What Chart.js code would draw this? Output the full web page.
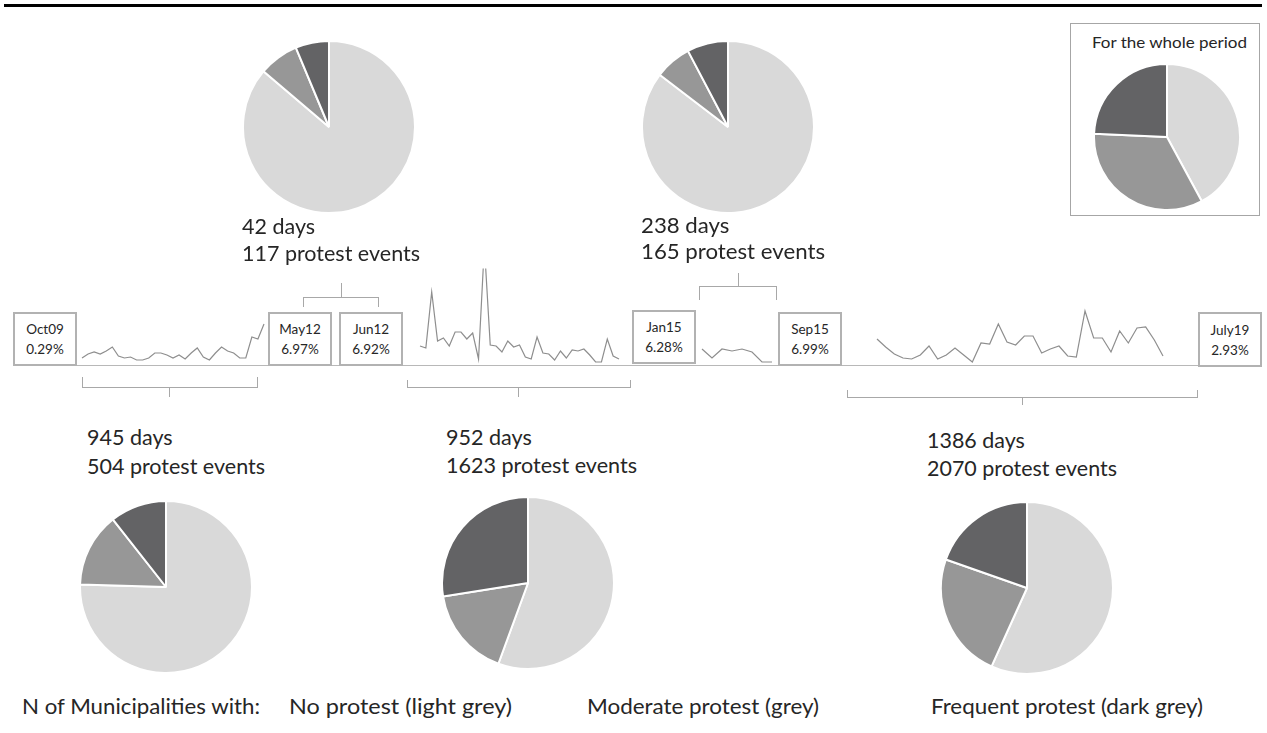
<!DOCTYPE html>
<html>
<head>
<meta charset="utf-8">
<script src="https://cdn.jsdelivr.net/npm/chart.js@4.4.1/dist/chart.umd.min.js"></script>
<style>
  html, body { margin:0; padding:0; background:#fff; }
  #stage { position:relative; width:1267px; height:733px; overflow:hidden; font-family: Lato, "Open Sans", sans-serif; color:#262626; }
  .abs { position:absolute; }
  .box { position:absolute; box-sizing:border-box; border:2px solid #b2b2b2; background:#fff;
         display:flex; flex-direction:column; align-items:center; justify-content:center;
         font-size:13.5px; line-height:20px; color:#262626; }
  .txt { position:absolute; white-space:nowrap; transform-origin:0 0; }
  .br { position:absolute; box-sizing:border-box; border-color:#a8a8a8; border-style:solid; border-width:0; }
  .tick { position:absolute; width:1px; background:#a8a8a8; }
</style>
</head>
<body>
<div id="stage"></div>
<script>
// ---------------- DATA ----------------
const pieCategories = ['No protest', 'Moderate protest', 'Frequent protest'];
const pieWholePeriod = [42.1, 33.6, 24.3];
const pieOct09May12 = [75.4, 13.9, 10.6];
const pieMay12Jun12 = [86.2, 7.5, 6.3];
const pieJun12Jan15 = [55.6, 16.9, 27.5];
const pieJan15Sep15 = [85.3, 6.9, 7.7];
const pieSep15Jul19 = [56.7, 23.6, 19.6];

const lineOct09May12 = [0.8,1.2,1.4,1.2,1.5,1.9,1.0,0.8,0.9,0.6,0.6,0.8,1.3,1.3,1.1,0.8,1.1,0.7,1.3,1.8,0.9,0.6,1.3,1.9,1.5,1.3,0.8,0.8,2.9,2.7,4.2];
const lineJun12Jan15 = [2.0,1.8,7.4,2.5,2.8,2.0,3.4,3.4,2.7,3.3,0.7,12.0,2.1,2.0,1.4,2.5,1.9,2.1,0.9,0.7,2.9,1.3,1.2,0.6,1.5,0.8,1.6,1.5,1.7,1.1,0.4,0.4,2.7,1.0,0.7];
const lineJan15Sep15 = [1.7,0.8,1.7,1.5,1.7,1.4,0.4,0.4];
const lineSep15Jul19 = [2.7,1.9,1.2,0.8,0.7,1.1,2.0,0.7,1.1,1.8,1.1,0.4,2.3,2.2,4.2,2.4,2.1,3.0,3.0,1.3,1.7,2.0,1.0,0.9,5.5,2.8,2.8,1.4,3.5,2.3,3.8,3.9,2.6,1.0];

const boxDates = ['Oct09', 'May12', 'Jun12', 'Jan15', 'Sep15', 'July19'];
const boxShares = ['0.29%', '6.97%', '6.92%', '6.28%', '6.99%', '2.93%'];

const periodDays = ['945 days', '42 days', '952 days', '238 days', '1386 days'];
const periodEvents = ['504 protest events', '117 protest events', '1623 protest events', '165 protest events', '2070 protest events'];

const wholeTitle = 'For the whole period';
const legendTitle = 'N of Municipalities with:';
const legendItems = ['No protest (light grey)', 'Moderate protest (grey)', 'Frequent protest (dark grey)'];

// ---------------- STYLE / LAYOUT ----------------
const pieColors = ['#d9d9d9', '#979797', '#636365'];
const stage = document.getElementById('stage');
const ASC = 0.987;

function el(cls, css) {
  const d = document.createElement('div');
  d.className = cls;
  d.style.cssText = css;
  stage.appendChild(d);
  return d;
}
function addText(str, x, baseline, size, targetW) {
  const d = el('txt', `left:${x}px;top:${baseline - ASC*size}px;font-size:${size}px;line-height:${1.2*size}px;`);
  d.textContent = str;
  if (targetW) {
    const w = d.getBoundingClientRect().width;
    if (w > 0) d.style.transform = `scaleX(${targetW / w})`;
  }
  return d;
}

// top rule
el('abs', 'left:4px;top:4px;width:1258px;height:3px;background:#000;');

// baseline
el('abs', 'left:13px;top:365px;width:1249px;height:1px;background:#b8b8b8;');

// line charts
const LINE_TOP = 269, LINE_BOTTOM = 366, Y_MAX = 9.7, PAD = 3;
function lineChart(values, x0, x1) {
  const c = document.createElement('canvas');
  const w = (x1 - x0) + 2*PAD, h = (LINE_BOTTOM - LINE_TOP) + 2*PAD;
  c.width = w; c.height = h;
  c.style.cssText = `position:absolute;left:${x0-PAD}px;top:${LINE_TOP-PAD}px;width:${w}px;height:${h}px;`;
  stage.appendChild(c);
  new Chart(c, {
    type: 'line',
    data: { labels: values.map((_, i) => String(i)),
      datasets: [{ data: values, borderColor: '#8e8e8e', borderWidth: 1.2, pointRadius: 0,
                   tension: 0, fill: false, clip: { left: PAD, right: PAD, top: 0.6, bottom: PAD } }] },
    options: { responsive: false, animation: false, events: [], devicePixelRatio: 1,
      layout: { padding: PAD },
      plugins: { legend: { display: false }, tooltip: { enabled: false } },
      scales: { x: { display: false, offset: false }, y: { display: false, min: 0, max: Y_MAX } } }
  });
}
lineChart(lineOct09May12, 82, 264);
lineChart(lineJun12Jan15, 420, 619);
lineChart(lineJan15Sep15, 702, 772);
lineChart(lineSep15Jul19, 877, 1163);

// boxes
const boxRects = [[13,312,64,54],[268,312,64,54],[339,312,64,54],[632,310,64,54],[778,312,64,54],[1198,312,64,55]];
boxDates.forEach((d, i) => {
  const [x, y, w, h] = boxRects[i];
  const b = el('box', `left:${x}px;top:${y}px;width:${w}px;height:${h}px;`);
  b.innerHTML = `<div>${d}</div><div>${boxShares[i]}</div>`;
});

// brackets: [left, top, width, height, open side ('up' = ticks up / line bottom; 'down' = line top), tickX, tickY0, tickY1]
function bracketBelow(x0, x1, yTop, yLine, tickX, tickEnd) {
  el('br', `left:${x0}px;top:${yTop}px;width:${x1-x0+1}px;height:${yLine-yTop+1}px;border-left-width:1px;border-right-width:1px;border-bottom-width:1px;`);
  el('tick', `left:${tickX}px;top:${yLine}px;height:${tickEnd-yLine}px;`);
}
function bracketAbove(x0, x1, yLine, yBottom, tickX, tickEnd) {
  el('br', `left:${x0}px;top:${yLine}px;width:${x1-x0+1}px;height:${yBottom-yLine}px;border-left-width:1px;border-right-width:1px;border-top-width:1px;`);
  el('tick', `left:${tickX}px;top:${tickEnd}px;height:${yLine-tickEnd}px;`);
}
bracketBelow(82, 257, 377, 387, 169, 397);
bracketAbove(303, 378, 297, 307, 341, 283);
bracketBelow(407, 630, 380, 387, 518, 397);
bracketAbove(699, 776, 286, 300, 738, 273);
bracketBelow(847, 1197, 390, 397, 1022, 405);

// pies
function pieChart(values, cx, cy, r) {
  const S = 2*r + 2;
  const c = document.createElement('canvas');
  c.width = S; c.height = S;
  c.style.cssText = `position:absolute;left:${cx - S/2}px;top:${cy - S/2}px;width:${S}px;height:${S}px;`;
  stage.appendChild(c);
  new Chart(c, {
    type: 'pie',
    data: { labels: pieCategories,
      datasets: [{ data: values, backgroundColor: pieColors, borderColor: '#ffffff', borderWidth: 2 }] },
    options: { responsive: false, animation: false, events: [], devicePixelRatio: 1,
      layout: { padding: 0 },
      plugins: { legend: { display: false }, tooltip: { enabled: false } } }
  });
}
pieChart(pieMay12Jun12, 329, 127, 86);
pieChart(pieJan15Sep15, 728, 127, 86);
pieChart(pieOct09May12, 166, 587, 86);
pieChart(pieJun12Jan15, 528, 583, 86);
pieChart(pieSep15Jul19, 1027, 588, 86);

// whole period box + pie
el('abs', 'left:1070px;top:23px;width:190px;height:193px;box-sizing:border-box;border:1px solid #a6a6a6;');
pieChart(pieWholePeriod, 1167, 137, 73);
addText(wholeTitle, 1092, 48, 15.5, 155);

// period labels
const labelPos = [[87, 446, 475, 178], [242, 235, 262, 178], [446, 446, 474, 191], [641, 234, 260, 184], [927, 449, 477, 190]];
periodDays.forEach((t, i) => {
  const [x, b1, b2, w2] = labelPos[i];
  const d2 = addText(periodEvents[i], x, b2, 21.5, w2);
  const d1 = addText(t, x, b1, 21.5);
  d1.style.transform = d2.style.transform;
});

// legend line
addText(legendTitle, 22, 714, 21, 238);
const legendX = [[289, 223], [587, 232], [931, 272]];
legendItems.forEach((t, i) => addText(t, legendX[i][0], 714, 21, legendX[i][1]));
</script>
</body>
</html>
